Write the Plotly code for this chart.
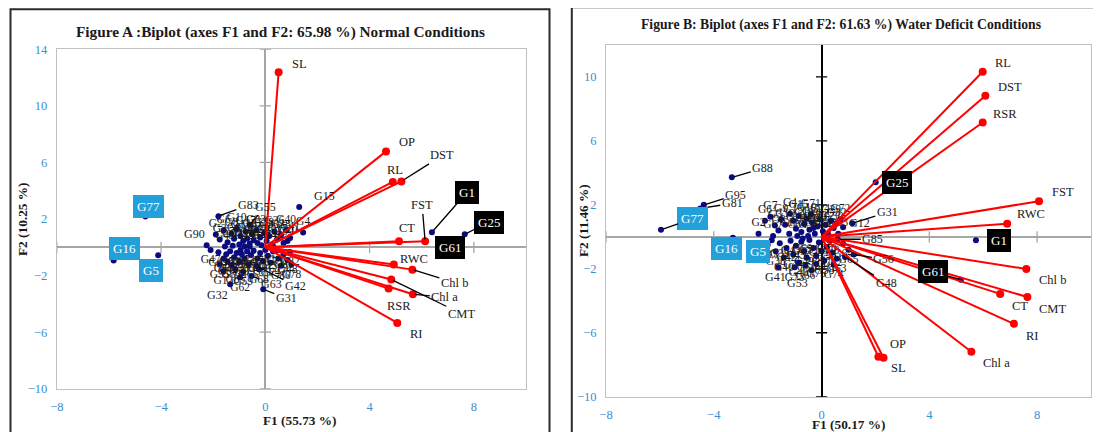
import plotly.graph_objects as go

# page body adds an 8px offset; the figure is sized so that it fills the 1101x432 window
OFF = 8
W, H = 1101 - OFF, 432 - OFF
SERIF = "Liberation Serif"


def PX(px):
    return (px - OFF) / W


def PY(py):
    return 1 - (py - OFF) / H


# ---------------- Panel A : Normal conditions ----------------
a_title = "Figure A :Biplot (axes F1 and F2: 65.98 %) Normal Conditions"
a_xtitle = "F1 (55.73 %)"
a_ytitle = "F2 (10.25 %)"
a_xticks = [-8, -4, 0, 4, 8]
a_yticks = [-10, -6, -2, 2, 6, 10, 14]

a_var_names = ["SL", "OP", "RL", "DST", "CT", "FST", "RWC", "Chl b", "Chl a", "RSR", "CMT", "RI"]
a_var_f1 = [0.51, 4.63, 4.89, 5.22, 5.13, 6.13, 4.93, 5.64, 5.66, 4.73, 4.83, 5.06]
a_var_f2 = [12.37, 6.78, 4.62, 4.66, 0.42, 0.42, -1.22, -1.58, -3.32, -2.92, -2.28, -5.35]

a_geno_names = ["G1", "G25", "G61", "G77", "G16", "G5", "G15", "G83", "G55", "G90",
                "G4", "G20", "G31", "G32", "G63", "G42", "G62", "G12", "G35", "G33",
                "G48", "G78", "G2", "G3", "G6", "G7", "G8", "G9", "G10", "G11",
                "G13", "G14", "G17", "G18", "G19", "G21", "G22", "G23", "G24", "G26",
                "G27", "G28", "G29", "G30", "G34", "G36", "G37", "G38", "G39", "G40",
                "G41", "G43", "G44", "G45", "G46", "G47", "G49", "G50", "G51", "G52",
                "G53", "G54", "G56", "G57", "G58", "G59", "G60", "G64", "G65", "G66",
                "G67", "G68", "G69", "G70", "G71", "G72", "G73", "G74", "G75", "G76",
                "G79", "G80", "G81", "G82", "G84", "G85", "G86"]
a_geno_f1 = [6.39, 7.65, 7.05, -4.60, -5.82, -4.11, 1.30, -1.80, -0.60, -2.25,
             1.45, 0.85, -0.08, -1.35, -0.53, -0.34, -0.97, -1.61, -1.75, -1.29,
             0.85, 1.00, -1.90, -1.75, -1.60, -1.45, -1.30, -1.20, -1.10, -1.00,
             -0.95, -0.85, -0.75, -0.70, -0.60, -0.50, -0.45, -0.35, -0.30, -0.20,
             -0.15, -0.05, 0.05, 0.15, 0.25, 0.35, 0.45, 0.60, 0.70, 0.80,
             0.95, -1.55, -1.25, -0.80, 0.30, -2.10, -1.80, -1.60, -1.50, -1.35,
             -1.20, -1.10, -1.00, -0.95, -0.90, -0.85, -0.80, -0.70, -0.65, -0.55,
             -0.45, -0.25, -0.30, -0.20, -0.10, 0.00, 0.10, 0.20, 0.30, 0.43,
             0.50, 0.60, 0.70, 0.94, -1.45, -1.15, -0.60]
a_geno_f2 = [1.06, 0.92, 0.02, 2.17, -0.94, -0.57, 2.85, 2.20, 1.60, 0.15,
             1.05, 0.45, -2.97, -2.61, -2.03, -1.32, -2.14, -1.67, -1.20, -1.25,
             -0.90, -1.20, 0.90, 0.55, 1.20, 0.35, 0.95, 0.60, 1.30, 0.20,
             0.80, 0.45, 1.10, 0.60, 0.25, 0.90, 0.50, 1.20, 0.30, 0.70,
             0.15, 1.00, 0.45, 0.80, 0.20, 1.10, 0.55, 0.85, 0.30, 1.20,
             0.65, 0.05, 0.10, 0.05, 0.05, -0.20, -0.35, -0.80, -0.50, -0.28,
             -0.70, -0.40, -1.00, -0.20, -0.50, -1.74, -0.80, -0.30, -1.20, -0.55,
             -0.25, -1.55, -0.80, -0.40, -1.00, -0.20, -0.60, -1.10, -0.30, -0.21,
             -0.80, -1.30, -0.50, -0.33, -1.00, -1.55, 0.05]

# ---------------- Panel B : Water deficit conditions ----------------
b_title = "Figure B: Biplot (axes F1 and F2: 61.63 %) Water Deficit Conditions"
b_xtitle = "F1 (50.17 %)"
b_ytitle = "F2 (11.46 %)"
b_xticks = [-8, -4, 0, 4, 8]
b_yticks = [-10, -6, -2, 2, 6, 10]

b_var_names = ["RL", "DST", "RSR", "FST", "RWC", "Chl b", "CT", "CMT", "RI", "Chl a", "OP", "SL"]
b_var_f1 = [5.98, 6.08, 5.98, 8.07, 6.89, 7.60, 6.63, 7.64, 7.14, 5.56, 2.11, 2.30]
b_var_f2 = [10.33, 8.82, 7.15, 2.23, 0.82, -2.01, -3.57, -3.76, -5.44, -7.19, -7.50, -7.56]

b_geno_names = ["G1", "G25", "G61", "G77", "G16", "G5", "G88", "G95", "G81", "G85",
                "G31", "G48", "G53", "G41", "G12", "G56", "G2", "G3", "G4", "G6",
                "G7", "G8", "G9", "G10", "G11", "G13", "G14", "G15", "G17", "G18",
                "G19", "G20", "G21", "G22", "G23", "G24", "G26", "G27", "G28", "G29",
                "G30", "G32", "G33", "G34", "G35", "G36", "G37", "G38", "G39", "G40",
                "G42", "G43", "G44", "G45", "G46", "G47", "G49", "G50", "G51", "G52",
                "G54", "G55", "G57", "G58", "G59", "G60", "G62", "G63", "G64", "G65",
                "G66", "G67", "G68", "G69", "G70", "G71", "G72", "G73", "G74", "G75"]
b_geno_f1 = [5.73, 2.01, 5.17, -5.96, -3.29, -1.85, -3.33, -4.37, -4.50, 0.60,
             1.14, 0.87, -0.37, -1.60, 0.80, 1.20, -2.34, -1.73, -1.17, -2.10,
             -1.90, -1.60, -1.50, -1.35, -1.20, -1.05, -0.95, -0.85, -0.75, -0.65,
             -0.55, -0.45, -0.35, -0.25, -0.15, -0.05, 0.05, 0.15, 0.25, 0.35,
             0.45, 0.56, 0.62, -0.90, -0.50, 0.10, -2.00, -1.70, -1.55, -1.40,
             -1.30, -1.15, -1.05, -0.95, -0.85, -0.75, -0.65, -0.55, -0.45, -0.30,
             -0.20, -0.10, 0.00, 0.10, 0.19, 0.30, 0.40, 0.56, 0.80, 1.00,
             -0.60, -1.80, -0.30, -0.70, 0.20, -0.40, 0.70, -1.00, 0.45, -0.20]
b_geno_f2 = [-0.22, 3.41, -2.68, 0.44, -0.06, -0.22, 3.72, 2.00, 1.78, -0.15,
             0.85, -1.26, -2.09, -1.90, 0.60, -1.10, 0.19, 0.71, 1.44, 1.00,
             1.25, 0.40, 1.10, 0.75, 0.20, 1.00, 0.50, 1.30, 0.30, 0.80,
             1.15, 0.45, 0.90, 0.20, 0.65, 1.10, 0.35, 0.75, 0.15, 1.00,
             0.55, 0.85, 0.19, 0.05, 0.05, 0.05, -0.50, -0.90, -0.40, -1.30,
             -0.70, -0.25, -1.10, -0.55, -1.60, -0.30, -0.90, -1.30, -0.20, -0.70,
             -1.20, -0.35, -0.90, -1.50, -0.64, -0.25, -1.00, -1.37, -0.43, -0.80,
             -1.80, 0.05, 0.55, -0.10, -0.10, 1.40, 1.10, -1.90, -1.75, -1.70]

# ---------------- label placement (pixel offsets: dx, dy, leader) ----------------
a_var_lab = {"SL": (21, -8, False), "OP": (21, -9, False), "RL": (2, -12, False),
             "DST": (41, -26, True), "CT": (8, -13, False), "FST": (-3, -36, True),
             "RWC": (20, -6, False), "Chl b": (42, 13, True), "Chl a": (32, 3, True),
             "RSR": (10, 17, False), "CMT": (70, 34, True), "RI": (19, 11, False)}
b_var_lab = {"RL": (20, -9, False), "DST": (25, -9, False), "RSR": (22, -9, False),
             "FST": (24, -9, False), "RWC": (24, -10, False), "Chl b": (26, 11, False),
             "CT": (20, 12, False), "CMT": (25, 12, False), "RI": (19, 12, False),
             "Chl a": (25, 11, False), "OP": (20, -13, False), "SL": (15, 10, False)}

BLUE_BOX = "#22A0DA"
a_boxes = {"G77": (3, -10, False, BLUE_BOX), "G16": (11, -12, False, BLUE_BOX),
           "G5": (-7, 15, False, BLUE_BOX), "G1": (35, -40, True, "black"),
           "G25": (24, -12, True, "black"), "G61": (1, 0, False, "black")}
b_boxes = {"G77": (32, -11, True, BLUE_BOX), "G16": (-6, 11, False, BLUE_BOX),
           "G5": (-14, 11, False, BLUE_BOX), "G25": (21, 0, False, "black"),
           "G1": (23, 0, False, "black"), "G61": (-28, -8, True, "black")}
a_glab = {"G83": (30, -11, True), "G55": (16, -18, True), "G31": (23, 9, True),
          "G15": (25, -11, False), "G90": (-12, -11, False), "G32": (-13, 11, False),
          "G63": (20, 8, True), "G42": (39, 20, True)}
b_glab = {"G88": (31, -9, True), "G95": (32, -10, True), "G81": (32, -5, True),
          "G85": (35, 0, True), "G31": (35, -11, True), "G48": (41, 26, True),
          "G53": (-14, 13, False), "G41": (-3, 10, False), "G12": (16, -4, False),
          "G56": (30, 5, True)}

fig = go.Figure()
annotations = []


def add_panel(xr, yr, var_names, vf1, vf2, g_names, gf1, gf2, xticks, yticks,
              var_lab, boxes, glab, vzero_color):
    # tick marks on the zero axes
    fig.add_trace(go.Scatter(x=[0] * len(yticks), y=yticks, mode="markers",
                             xaxis=xr, yaxis=yr, hoverinfo="skip", showlegend=False,
                             marker=dict(symbol="line-ew", size=8,
                                         line=dict(width=1.3, color=vzero_color))))
    xt = [v for v in xticks if v != 0]
    fig.add_trace(go.Scatter(x=xt, y=[0] * len(xt), mode="markers",
                             xaxis=xr, yaxis=yr, hoverinfo="skip", showlegend=False,
                             marker=dict(symbol="line-ns", size=8,
                                         line=dict(width=1.3, color="#A6A6A6"))))
    # genotypes
    special = set(boxes) | set(glab)
    texts = ["" if n in special else n for n in g_names]
    tpos = ["top center" if v >= 0 else "bottom center" for v in gf2]
    fig.add_trace(go.Scatter(x=gf1, y=gf2, mode="markers+text", text=texts,
                             textposition=tpos, xaxis=xr, yaxis=yr, showlegend=False,
                             textfont=dict(family=SERIF, size=11.5, color="#1a1a1a"),
                             marker=dict(size=6, color="#0B0B80")))
    # variable vectors
    lx, ly = [], []
    for a, b in zip(vf1, vf2):
        lx += [0, a, None]
        ly += [0, b, None]
    fig.add_trace(go.Scatter(x=lx, y=ly, mode="lines", xaxis=xr, yaxis=yr,
                             showlegend=False, line=dict(color="#FF0000", width=2)))
    fig.add_trace(go.Scatter(x=vf1, y=vf2, mode="markers", xaxis=xr, yaxis=yr,
                             showlegend=False, marker=dict(size=8, color="#FF0000")))

    def lab(x, y, text, dx, dy, lead, font, **extra):
        base = dict(x=x, y=y, xref=xr, yref=yr, text=text, font=font, **extra)
        if lead:
            base.update(showarrow=True, ax=dx, ay=dy, arrowhead=0, arrowwidth=1.3,
                        arrowcolor="black", standoff=2)
        else:
            base.update(showarrow=False, xshift=dx, yshift=-dy,
                        xanchor="center", yanchor="middle")
        annotations.append(base)

    for n, a, b in zip(var_names, vf1, vf2):
        dx, dy, lead = var_lab[n]
        lab(a, b, n, dx, dy, lead, dict(family=SERIF, size=12.5, color="#1a1a1a"))
    lookup = {n: (a, b) for n, a, b in zip(g_names, gf1, gf2)}
    for n, (dx, dy, lead) in glab.items():
        a, b = lookup[n]
        lab(a, b, n, dx, dy, lead, dict(family=SERIF, size=12, color="#1a1a1a"))
    for n, (dx, dy, lead, col) in boxes.items():
        a, b = lookup[n]
        lab(a, b, n, dx, dy, lead, dict(family=SERIF, size=13, color="white"),
            bgcolor=col, bordercolor=col, borderpad=3)


add_panel("x", "y", a_var_names, a_var_f1, a_var_f2, a_geno_names, a_geno_f1,
          a_geno_f2, a_xticks, a_yticks, a_var_lab, a_boxes, a_glab, "#A6A6A6")
add_panel("x2", "y2", b_var_names, b_var_f1, b_var_f2, b_geno_names, b_geno_f1,
          b_geno_f2, b_xticks, b_yticks, b_var_lab, b_boxes, b_glab, "black")

tickfont = dict(family=SERIF, size=12.5, color="#3B8ED0")
common_axis = dict(showgrid=False, showline=True, mirror=True, linecolor="#C0C0C0",
                   linewidth=1, ticks="", tickfont=tickfont, ticklabelstandoff=6,
                   automargin=False, zeroline=True)

fig.update_layout(
    width=W, height=H, margin=dict(l=0, r=0, t=0, b=0, autoexpand=False),
    paper_bgcolor="white", plot_bgcolor="white", showlegend=False,
    xaxis=dict(domain=[PX(56.8), PX(526)], range=[-8, 10], tickvals=a_xticks,
               zerolinecolor="#A6A6A6", zerolinewidth=1.5, anchor="y", **common_axis),
    yaxis=dict(domain=[PY(388.7), PY(49.3)], range=[-10, 14], tickvals=a_yticks,
               zerolinecolor="#A6A6A6", zerolinewidth=1.5, anchor="x", **common_axis),
    xaxis2=dict(domain=[PX(606), PX(1091)], range=[-8, 10], tickvals=b_xticks,
                zerolinecolor="black", zerolinewidth=2, anchor="y2", **common_axis),
    yaxis2=dict(domain=[PY(396.7), PY(45)], range=[-10, 12], tickvals=b_yticks,
                zerolinecolor="#A6A6A6", zerolinewidth=1.5, anchor="x2", **common_axis),
)


def paper_text(px, py, text, size, angle=0):
    return dict(x=PX(px), y=PY(py), xref="paper", yref="paper", showarrow=False,
                xanchor="center", yanchor="middle", textangle=angle,
                text="<b>" + text + "</b>", font=dict(family=SERIF, size=size, color="#1a1a1a"))


annotations += [
    paper_text(280.6, 31.7, a_title, 15.3),
    paper_text(841, 25, b_title, 13.7),
    paper_text(300, 420, a_xtitle, 13.3),
    paper_text(849, 424, b_xtitle, 13.3),
    paper_text(22, 219, a_ytitle, 13.3, -90),
    paper_text(583, 221, b_ytitle, 13.3, -90),
]
fig.update_layout(annotations=annotations)

fig.update_layout(shapes=[
    dict(type="rect", xref="paper", yref="paper", x0=PX(10.5), x1=PX(549.5),
         y0=-0.1, y1=PY(9.3), line=dict(color="#2b2b2b", width=2)),
    dict(type="rect", xref="paper", yref="paper", x0=PX(571.8), x1=PX(1099),
         y0=-0.1, y1=PY(7.3), line=dict(color="#2b2b2b", width=2)),
])

fig.write_html("out.html")
